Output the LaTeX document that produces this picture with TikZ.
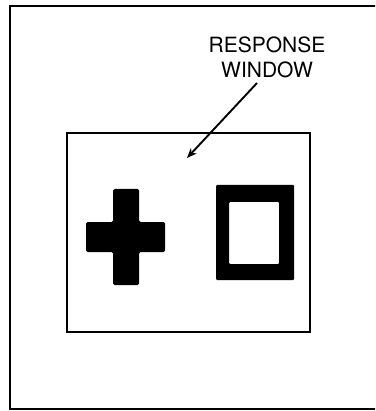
\documentclass[tikz,border=0pt]{standalone}
\usepackage{fontspec}
\setmainfont{TeX Gyre Heros}
\usetikzlibrary{arrows.meta}

\begin{document}
\begin{tikzpicture}[x=1pt, y=-1pt,
    frame/.style={draw=black, line width=2pt},
    window/.style={draw=black, line width=1.6pt},
    solid shape/.style={fill=black, rounded corners=1.5pt},
    pointer/.style={-{Stealth[length=10pt, width=8pt]}, line width=1.9pt}]
    % fester Bildausschnitt
    \useasboundingbox (0, 0) rectangle (375, 411);
    \clip (0, 0) rectangle (375, 411);

    % Aeusserer Rahmen (rechte Kante liegt ausserhalb)
    \draw[frame] (10, 6) rectangle (380, 409);

    % Antwortfenster
    \draw[window] (67, 133) rectangle (310, 332);

    % Kreuz
    \fill[solid shape] (113, 189) -- (139, 189) -- (139, 222) -- (165, 222)
      -- (165, 252) -- (139, 252) -- (139, 285) -- (113, 285) -- (113, 252)
      -- (86, 252) -- (86, 222) -- (113, 222) -- cycle;

    % Quadrat (Rahmen)
    \fill[black, even odd rule, rounded corners=1pt] (216, 185) rectangle (294, 280)
      (229, 202) rectangle (279, 264);

    % Beschriftung und Pfeil
    \node[font=\fontsize{21}{25}\selectfont, align=center, inner sep=0pt]
      (label) at (267, 57) {RESPONSE\\WINDOW};
    \coordinate (tail) at (257, 83);
    \coordinate (tip) at (187, 158);
    \draw[pointer] (tail) -- (tip);
\end{tikzpicture}
\end{document}
